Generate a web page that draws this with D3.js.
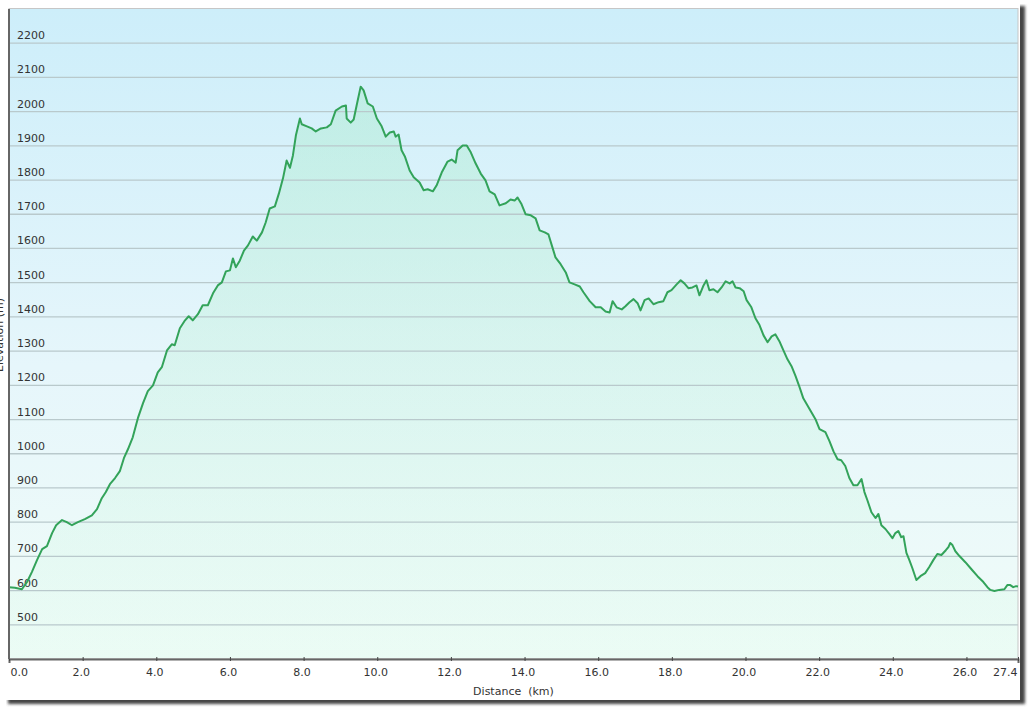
<!DOCTYPE html>
<html><head><meta charset="utf-8">
<script src="https://cdn.jsdelivr.net/npm/d3@7"></script>
<style>
html,body{margin:0;padding:0;background:#fff;overflow:hidden}
svg{display:block}
text{font-family:"DejaVu Sans",Verdana,sans-serif;fill:#333}
</style></head><body>
<svg id="c" width="1028" height="707"></svg>
<script>
const distance = [0,0.16,0.35,0.49,0.62,0.76,0.90,1.03,1.17,1.28,1.44,1.57,1.71,1.87,2.06,2.25,2.39,2.52,2.63,2.74,2.88,3.01,3.12,3.23,3.36,3.50,3.64,3.77,3.91,4.04,4.15,4.29,4.42,4.50,4.64,4.78,4.88,4.99,5.13,5.26,5.40,5.54,5.67,5.78,5.89,6.00,6.08,6.16,6.27,6.38,6.49,6.62,6.73,6.87,6.97,7.08,7.22,7.33,7.44,7.54,7.63,7.71,7.79,7.90,7.95,8.09,8.22,8.33,8.47,8.63,8.74,8.87,9.04,9.15,9.17,9.28,9.36,9.44,9.55,9.63,9.74,9.88,9.99,10.12,10.23,10.34,10.45,10.50,10.58,10.66,10.75,10.88,10.99,11.15,11.26,11.37,11.51,11.61,11.75,11.91,12.02,12.13,12.18,12.32,12.43,12.54,12.67,12.81,12.94,13.05,13.19,13.32,13.49,13.62,13.73,13.81,13.92,14.03,14.17,14.30,14.41,14.55,14.65,14.74,14.84,14.98,15.12,15.22,15.36,15.50,15.60,15.77,15.93,16.07,16.20,16.31,16.39,16.50,16.64,16.74,16.85,16.96,17.07,17.15,17.26,17.37,17.50,17.64,17.77,17.88,17.99,18.13,18.24,18.34,18.45,18.56,18.67,18.75,18.86,18.94,19.02,19.13,19.24,19.35,19.46,19.57,19.65,19.73,19.84,19.95,20.03,20.16,20.27,20.38,20.49,20.60,20.71,20.81,20.92,21.03,21.14,21.25,21.36,21.47,21.57,21.68,21.79,21.90,22.01,22.17,22.28,22.39,22.50,22.60,22.71,22.82,22.93,23.04,23.15,23.23,23.31,23.42,23.53,23.61,23.69,23.80,23.91,23.99,24.07,24.15,24.23,24.29,24.37,24.45,24.53,24.64,24.75,24.88,24.99,25.10,25.21,25.32,25.44,25.51,25.56,25.62,25.70,25.81,25.97,26.13,26.30,26.46,26.57,26.65,26.76,26.89,27.03,27.11,27.19,27.27,27.35,27.4];
const elevation = [610,608,604,625,654,689,721,730,768,791,806,800,791,800,809,820,838,870,888,911,929,949,987,1013,1048,1104,1148,1183,1200,1238,1253,1302,1320,1317,1367,1390,1402,1390,1408,1434,1434,1469,1492,1501,1533,1536,1571,1545,1565,1594,1609,1635,1623,1647,1676,1717,1723,1761,1805,1857,1836,1872,1930,1980,1963,1957,1951,1942,1951,1954,1963,2003,2015,2018,1980,1968,1977,2018,2073,2062,2024,2015,1980,1957,1927,1939,1942,1927,1933,1887,1869,1828,1808,1793,1770,1773,1767,1784,1822,1854,1860,1851,1887,1901,1901,1881,1849,1819,1799,1767,1758,1726,1732,1743,1740,1749,1729,1700,1697,1688,1653,1647,1641,1609,1574,1554,1530,1501,1495,1489,1472,1446,1428,1428,1416,1413,1446,1428,1422,1431,1443,1452,1440,1419,1449,1454,1437,1443,1446,1472,1478,1495,1507,1498,1484,1486,1492,1463,1492,1507,1478,1481,1472,1486,1504,1498,1504,1486,1484,1475,1449,1428,1396,1376,1346,1326,1343,1349,1329,1302,1276,1256,1227,1194,1162,1142,1121,1101,1072,1063,1037,1007,984,981,964,929,908,908,926,888,864,829,812,824,791,780,765,753,768,774,756,759,710,689,666,631,642,651,669,689,707,704,718,727,739,733,715,701,683,663,642,625,610,602,599,602,604,616,616,610,613,612];
const yTicks = [500,600,700,800,900,1000,1100,1200,1300,1400,1500,1600,1700,1800,1900,2000,2100,2200];
const xTicks = [0,2,4,6,8,10,12,14,16,18,20,22,24,26,27.4];
const xTitle = "Distance  (km)";
const yTitle = "Elevation (m)";

const svg = d3.select("#c");
const L = 9, R = 1018, T = 9, B = 659;
const x = d3.scaleLinear().domain([0, 27.4]).range([L, R]);
const y = d3.scaleLinear().domain([400, 2300]).range([B, T]);

const defs = svg.append("defs");
const sh = defs.append("filter").attr("id","sh").attr("x","-5%").attr("y","-5%").attr("width","110%").attr("height","110%");
sh.append("feGaussianBlur").attr("stdDeviation",1.5);
svg.append("rect").attr("x",8).attr("y",6).attr("width",1017).attr("height",698).attr("fill","#444").attr("filter","url(#sh)");
svg.append("rect").attr("x",3).attr("y",2).attr("width",1017).attr("height",698).attr("fill","#fff");
svg.append("rect").attr("x",0).attr("y",0).attr("width",6).attr("height",707).attr("fill","#fff");
svg.append("rect").attr("x",0).attr("y",0).attr("width",1028).attr("height",4).attr("fill","#fff");

const bg = defs.append("linearGradient").attr("id","bg").attr("x1",0).attr("y1",0).attr("x2",0).attr("y2",1);
bg.append("stop").attr("offset","0%").attr("stop-color","#cdeefa");
bg.append("stop").attr("offset","55%").attr("stop-color","#e6f6fb");
bg.append("stop").attr("offset","100%").attr("stop-color","#f0fcf8");
const ag = defs.append("linearGradient").attr("id","ag").attr("x1",0).attr("y1",0).attr("x2",0).attr("y2",1);
ag.append("stop").attr("offset","0%").attr("stop-color","#8ee6b0").attr("stop-opacity",0.28);
ag.append("stop").attr("offset","100%").attr("stop-color","#d8fbe8").attr("stop-opacity",0.2);

svg.append("rect").attr("x",L).attr("y",T).attr("width",R-L).attr("height",B-T).attr("fill","url(#bg)");

const area = d3.area().x((d,i)=>x(distance[i])).y0(B).y1(d=>y(d));
svg.append("path").datum(elevation).attr("d",area).attr("fill","url(#ag)");

svg.append("g").selectAll("line").data(yTicks).join("line")
  .attr("x1",L).attr("x2",R).attr("y1",d=>y(d)).attr("y2",d=>y(d))
  .attr("stroke","#b9c9cc").attr("stroke-width",1.3);
svg.append("g").selectAll("text").data(yTicks).join("text")
  .attr("x",17).attr("y",d=>y(d)-4).attr("font-size",11).text(d=>d);

svg.append("rect").attr("x",L).attr("y",T-0.5).attr("width",R-L).attr("height",B-T).attr("fill","none").attr("stroke","#c6c6c6").attr("stroke-width",1);

const line = d3.line().x((d,i)=>x(distance[i])).y(d=>y(d));
svg.append("path").datum(elevation).attr("d",line).attr("fill","none").attr("stroke","#33a35a").attr("stroke-width",2).attr("stroke-linejoin","round");

const xa = svg.append("g").attr("transform",`translate(0,${B})`)
  .call(d3.axisBottom(x).tickValues(xTicks).tickFormat(d3.format(".1f")).tickSize(4).tickPadding(5));
xa.select(".domain").attr("stroke","#666").attr("stroke-width",2);
xa.selectAll(".tick line").attr("stroke","#444").attr("transform","translate(0,-2)");
xa.selectAll(".tick text").attr("font-size",11).attr("font-family","DejaVu Sans").attr("fill","#333")
  .attr("text-anchor",(d,i)=> i===0 ? "start" : (i===xTicks.length-1 ? "end" : "middle"))
  .attr("dx",(d,i)=> i===0 ? 1 : (i===xTicks.length-1 ? -1 : -2));
svg.append("line").attr("x1",L).attr("x2",L).attr("y1",T).attr("y2",B).attr("stroke","#666").attr("stroke-width",2);

svg.append("text").attr("x",(L+R)/2).attr("y",695).attr("text-anchor","middle").attr("font-size",11).style("white-space","pre").text(xTitle);
svg.append("text").attr("transform","translate(3,335) rotate(-90)").attr("text-anchor","middle").attr("font-size",11).text(yTitle);
</script>
</body></html>
